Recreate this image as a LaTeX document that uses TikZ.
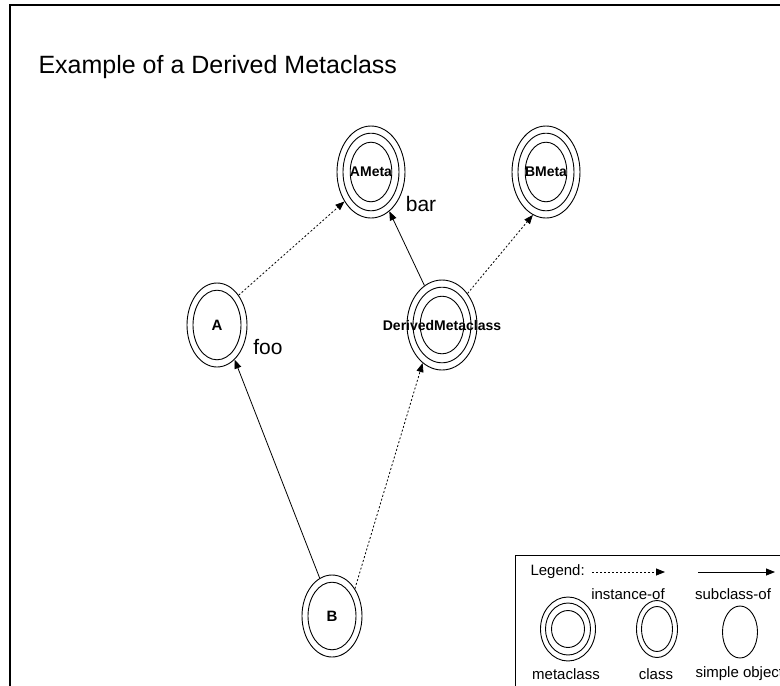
\documentclass[tikz,border=0pt]{standalone}
\usepackage{fontspec}
\setmainfont{Liberation Sans}
\usetikzlibrary{arrows.meta,shapes.geometric,calc,positioning}
\tikzset{
	>={Triangle[length=9pt,width=7pt]},
	ring gap/.store in=\ringgap,
	ring gap=6pt,
	ringnode/.style={
		ellipse,
		draw,
		line width=0.9pt,
		inner sep=0pt},
	metaclass/.style={
		ringnode,
		font=\bfseries\fontsize{14}{14}\selectfont,
		path picture={
			\coordinate (mid) at (path picture bounding box.center);
			\draw[line width=0.9pt] let \p1=($(path picture bounding box.north east)-(mid)$) in
				(mid) ellipse [x radius=\x1-\ringgap, y radius=\y1-1.2*\ringgap]
				(mid) ellipse [x radius=\x1-2.2*\ringgap, y radius=\y1-2.7*\ringgap];
		}},
	classnode/.style={
		ringnode,
		font=\bfseries\fontsize{15}{15}\selectfont,
		path picture={
			\coordinate (mid) at (path picture bounding box.center);
			\draw[line width=0.9pt] let \p1=($(path picture bounding box.north east)-(mid)$) in
				(mid) ellipse [x radius=\x1-\ringgap, y radius=\y1-1.2*\ringgap];
		}},
	simplenode/.style={ringnode},
	instedge/.style={
		->,
		line width=0.8pt,
		dash pattern=on 2pt off 2pt},
	subedge/.style={
		->,
		line width=0.8pt},
	tagtext/.style={font=\fontsize{21}{21}\selectfont},
	legendtext/.style={font=\fontsize{15}{15}\selectfont}
}
\begin{document}
\begin{tikzpicture}[x=1pt, y=-1pt]
    \clip (0,0) rectangle (780,686);

    % frame and title
    \draw[line width=1.2pt] (10,700) -- (10,5) -- (790,5);
    \node[anchor=base west, font=\fontsize{25}{25}\selectfont] (title) at (35,73) {Example of a Derived Metaclass};

    % the diagram
    \node[metaclass, minimum width=68pt, minimum height=92pt] (AMeta) at (371,172) {AMeta};
    \node[metaclass, minimum width=68pt, minimum height=92pt] (BMeta) at (546,172) {BMeta};
    \node[metaclass, minimum width=70pt, minimum height=90pt] (DM) at (442,325) {\makebox[0pt]{DerivedMetaclass}};
    \node[classnode, ring gap=6pt, minimum width=60pt, minimum height=84pt] (A) at (217,325) {A};
    \node[classnode, ring gap=6pt, minimum width=60pt, minimum height=82pt] (B) at (332,616) {B};

    \node[tagtext] (foo) at (268,347) {foo};
    \node[tagtext] (bar) at (421,204) {bar};

    \draw[instedge] (A.54) -- (AMeta.228);
    \draw[subedge] (DM.114) -- (AMeta.295);
    \draw[instedge] (DM.51) -- (BMeta.253);
    \draw[subedge] (B.108) -- (A.297);
    \draw[instedge] (B.50) -- (DM.243);

    % legend
    \draw[line width=0.8pt] (515,700) -- (515,555) -- (790,555);
    \node[legendtext, anchor=west] (legend) at (527,572) {Legend:};
    \coordinate (inst1) at (592,572);
    \coordinate (inst2) at (665,572);
    \coordinate (sub1) at (698,572);
    \coordinate (sub2) at (775,572);
    \draw[instedge] (inst1) -- (inst2);
    \draw[subedge] (sub1) -- (sub2);
    \node[legendtext] (instlabel) at (628,594) {instance-of};
    \node[legendtext] (sublabel) at (733,594) {subclass-of};

    \node[metaclass, ring gap=5pt, minimum width=55pt, minimum height=64pt] (legmeta) at (568,629) {};
    \node[classnode, ring gap=5pt, minimum width=41pt, minimum height=57pt] (legclass) at (657,629) {};
    \node[simplenode, minimum width=35pt, minimum height=52pt] (legsimple) at (740,632) {};
    \node[legendtext] (metalabel) at (566,674) {metaclass};
    \node[legendtext] (classlabel) at (656,674) {class};
    \node[legendtext, anchor=west] (simplelabel) at (692,674) {simple object};
\end{tikzpicture}
\end{document}
